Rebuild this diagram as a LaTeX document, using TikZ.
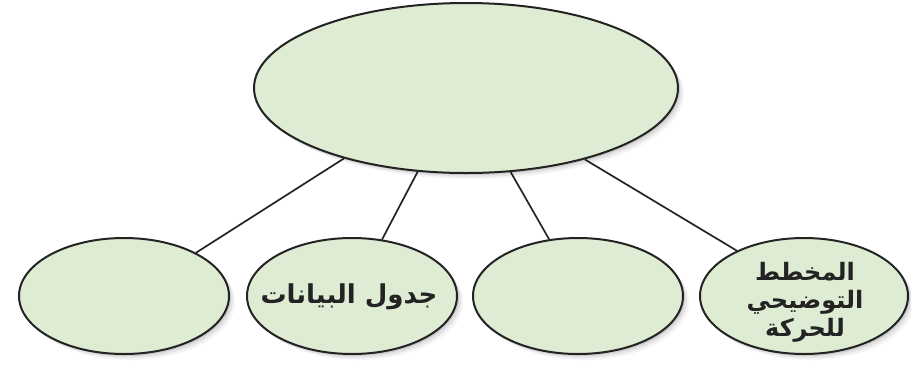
\documentclass[tikz,border=0pt]{standalone}
\usepackage{fontspec}
\newfontfamily\arabicfont[Script=Arabic]{DejaVu Sans}
\TeXXeTstate=1
\usetikzlibrary{shapes.geometric,shadows}
\definecolor{bubble}{RGB}{223,236,212}
\definecolor{ink}{RGB}{35,35,35}
\tikzset{
  bubble/.style={ellipse, draw=ink, line width=2pt, fill=bubble, inner sep=0pt,
    drop shadow={shadow xshift=2pt, shadow yshift=-2pt, opacity=0.10, fill=black},
    drop shadow={shadow xshift=4pt, shadow yshift=-4pt, opacity=0.07, fill=black},
    drop shadow={shadow xshift=6pt, shadow yshift=-6pt, opacity=0.04, fill=black}},
  small/.style={minimum width=210pt, minimum height=116pt},
  lbl/.style={inner sep=0pt, text=ink, align=center,
    font=\arabicfont\bfseries\fontsize{24}{28}\selectfont},
  link/.style={draw=ink, line width=1.7pt}
}
\begin{document}
\begin{tikzpicture}[x=1pt,y=-1pt]
\useasboundingbox (0,0) rectangle (911,365);
\node[bubble, minimum width=424pt, minimum height=170pt] (top) at (466,88) {};
\node[bubble, small] (e1) at (124,296) {};
\node[bubble, small] (e2) at (352,296) {};
\node[bubble, small] (e3) at (578,296) {};
\node[bubble, small, minimum width=208pt] (e4) at (804,296) {};
\node[lbl, font=\arabicfont\bfseries\fontsize{26}{28}\selectfont] (t2) at (349,297) {\beginR جدول البيانات\endR};
\node[lbl] (t4) at (805,302) {\beginR المخطط\endR\\\beginR التوضيحي\endR\\\beginR للحركة\endR};
\draw[link] (top.210.5) -- (e1.31);
\draw[link] (top.240.5) -- (e2.62);
\draw[link] (top.298.5) -- (e3.117);
\draw[link] (top.329.2) -- (e4.146);
\end{tikzpicture}
\end{document}
